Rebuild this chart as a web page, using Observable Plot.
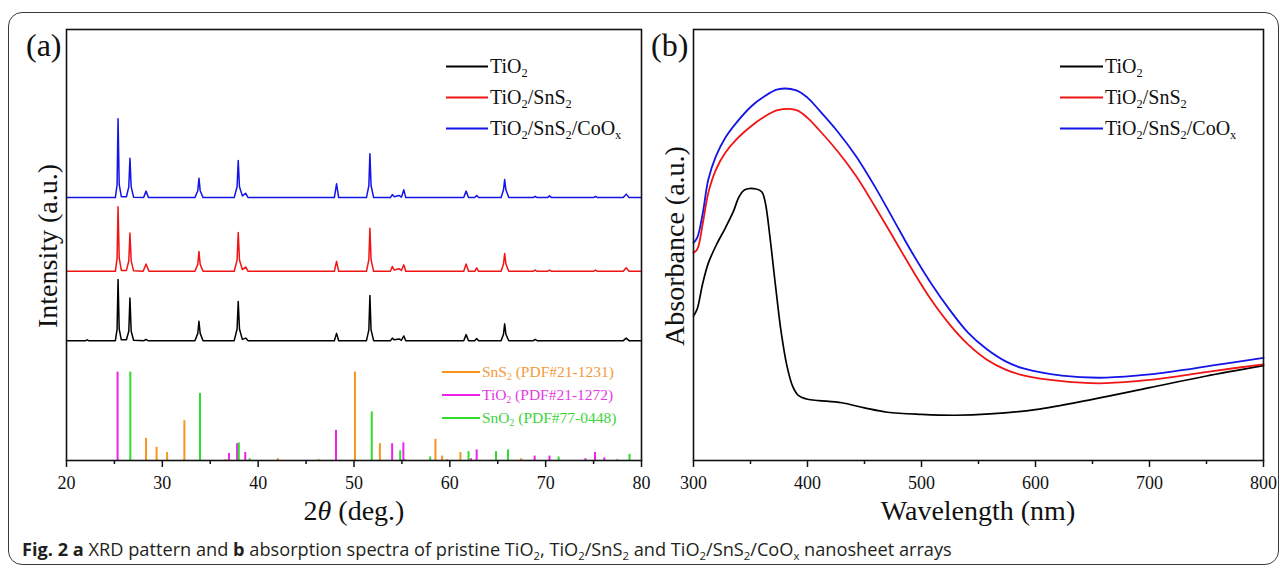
<!DOCTYPE html>
<html>
<head>
<meta charset="utf-8">
<script src="https://cdn.jsdelivr.net/npm/d3@7"></script>
<script src="https://cdn.jsdelivr.net/npm/@observablehq/plot@0.6"></script>
<style>
  body { margin: 0; background: #fff; }
  #wrap { position: relative; width: 1282px; height: 569px; overflow: hidden; background: #fff; }
  .abs { position: absolute; white-space: nowrap; }
  .serif { font-family: "Liberation Serif", "Times New Roman", serif; color: #111; }
  .mid { transform: translateY(-50%); }
  .ctr { transform: translate(-50%, -50%); }
  .rot { transform: translate(-50%, -50%) rotate(-90deg); }
  .leg { display: flex; align-items: center; }
  .leg .sw { display: inline-block; height: 2px; margin-right: 2px; }
  sub { font-size: 0.62em; vertical-align: -0.35em; line-height: 0; }
  #border { position: absolute; left: 8px; top: 12px; width: 1271px; height: 553px; box-sizing: border-box;
            border: 1.5px solid #3a3a3a; border-radius: 14px; }
  #caption { font-family: "Open Sans", "Noto Sans", sans-serif; font-size: 18.2px; color: #231f20; }
  #pa svg text, #pb svg text { font-family: "Liberation Serif", "Times New Roman", serif; }
</style>
</head>
<body>
<div id="wrap">
  <div id="border"></div>
  <div id="pa" class="abs" style="left:0;top:0"></div>
  <div id="pb" class="abs" style="left:645px;top:0"></div>

  <div class="abs serif" style="left:26px;top:29px;font-size:32px;line-height:1">(a)</div>
  <div class="abs serif" style="left:651px;top:29px;font-size:32px;line-height:1">(b)</div>

  <div class="abs serif rot" style="left:48px;top:246px;font-size:28px">Intensity (a.u.)</div>
  <div class="abs serif rot" style="left:675px;top:246px;font-size:28px">Absorbance (a.u.)</div>
  <div class="abs serif ctr" style="left:354px;top:511px;font-size:28px">2<i>θ</i> (deg.)</div>
  <div class="abs serif ctr" style="left:978px;top:511px;font-size:28px">Wavelength (nm)</div>

  <div id="legA"></div>
  <div id="legB"></div>
  <div id="legRef"></div>

  <div id="caption" class="abs mid" style="left:22px;top:549px"><b>Fig. 2</b> <b>a</b> XRD pattern and <b>b</b> absorption spectra of pristine TiO<sub>2</sub>, TiO<sub>2</sub>/SnS<sub>2</sub> and TiO<sub>2</sub>/SnS<sub>2</sub>/CoO<sub>x</sub> nanosheet arrays</div>
</div>
<script>
// ---------------- Panel (a): XRD ----------------
const xTicksA = [20, 30, 40, 50, 60, 70, 80];
const xMinorA = [25, 35, 45, 55, 65, 75];

// trace points [2theta, intensity (a.u.)]
const xrdTiO2SnS2CoOx = [
  [20, 61.0],
  [25.1, 61.0], [25.28, 64.0], [25.38, 79.3], [25.5, 64.0], [25.72, 61.2],
  [26.25, 61.2], [26.5, 63.5], [26.62, 70.1], [26.75, 63.5], [27.0, 61.1],
  [28.05, 61.0], [28.3, 62.5], [28.55, 61.0],
  [33.4, 61.0], [33.7, 62.6], [33.82, 65.5], [33.95, 62.6], [34.25, 61.0],
  [37.5, 61.0], [37.8, 63.5], [37.92, 69.6], [38.05, 63.5], [38.35, 61.4], [38.7, 62.0], [38.95, 61.0],
  [47.95, 61.0], [48.18, 64.2], [48.4, 61.0],
  [51.3, 61.0], [51.55, 63.8], [51.66, 71.2], [51.78, 63.8], [52.05, 61.0],
  [53.8, 61.0], [54.0, 61.7], [54.2, 61.2], [54.7, 61.5], [54.95, 61.1], [55.2, 62.8], [55.4, 61.0],
  [61.45, 61.0], [61.7, 62.5], [61.95, 61.0],
  [62.6, 61.0], [62.8, 61.5], [63.0, 61.0],
  [65.35, 61.0], [65.6, 62.8], [65.72, 65.2], [65.85, 62.8], [66.15, 61.0],
  [68.7, 61.0], [68.9, 61.3], [69.1, 61.0],
  [70.2, 61.0], [70.4, 61.4], [70.6, 61.0],
  [75.0, 61.0], [75.2, 61.3], [75.4, 61.0],
  [78.1, 61.0], [78.4, 61.8], [78.7, 61.0],
  [80, 61.0]
];
const xrdTiO2SnS2 = [
  [20, 43.9],
  [25.1, 43.9], [25.28, 47.0], [25.38, 58.9], [25.5, 47.0], [25.72, 44.1],
  [26.25, 44.1], [26.5, 46.3], [26.62, 52.8], [26.75, 46.3], [27.0, 44.0],
  [28.0, 43.9], [28.3, 45.6], [28.6, 43.9],
  [33.4, 43.9], [33.7, 45.5], [33.82, 48.5], [33.95, 45.5], [34.25, 43.9],
  [37.5, 43.9], [37.8, 46.5], [37.92, 52.9], [38.05, 46.5], [38.35, 44.3], [38.7, 44.9], [38.95, 43.9],
  [47.95, 43.9], [48.18, 46.2], [48.4, 43.9],
  [51.3, 43.9], [51.55, 46.6], [51.66, 53.9], [51.78, 46.6], [52.05, 43.9],
  [53.8, 43.9], [54.0, 45.0], [54.2, 44.2], [54.7, 44.5], [54.95, 44.1], [55.2, 45.4], [55.4, 43.9],
  [61.45, 43.9], [61.7, 45.6], [61.95, 43.9],
  [62.6, 43.9], [62.8, 44.7], [63.0, 43.9],
  [65.35, 43.9], [65.6, 45.6], [65.72, 48.0], [65.85, 45.6], [66.15, 43.9],
  [68.7, 43.9], [68.9, 44.2], [69.1, 43.9],
  [70.2, 43.9], [70.4, 44.2], [70.6, 43.9],
  [75.0, 43.9], [75.2, 44.2], [75.4, 43.9],
  [78.1, 43.9], [78.4, 44.7], [78.7, 43.9],
  [80, 43.9]
];
const xrdTiO2 = [
  [20, 27.8],
  [22.0, 27.8], [22.15, 28.0], [22.3, 27.8],
  [25.1, 27.8], [25.28, 30.5], [25.38, 42.0], [25.5, 30.5], [25.72, 28.0],
  [26.25, 28.0], [26.5, 30.0], [26.62, 37.7], [26.75, 30.0], [27.0, 27.9],
  [28.1, 27.8], [28.3, 28.1], [28.5, 27.8],
  [33.4, 27.8], [33.7, 29.5], [33.82, 32.3], [33.95, 29.5], [34.25, 27.8],
  [37.5, 27.8], [37.8, 30.5], [37.92, 36.9], [38.05, 30.5], [38.35, 28.1], [38.7, 28.4], [38.95, 27.8],
  [47.95, 27.8], [48.18, 29.5], [48.4, 27.8],
  [51.3, 27.8], [51.55, 30.3], [51.66, 38.3], [51.78, 30.3], [52.05, 27.8],
  [53.8, 27.8], [54.0, 28.4], [54.2, 28.0], [54.7, 28.2], [54.95, 27.9], [55.2, 28.9], [55.4, 27.8],
  [61.45, 27.8], [61.7, 29.2], [61.95, 27.8],
  [62.6, 27.8], [62.8, 28.3], [63.0, 27.8],
  [65.35, 27.8], [65.6, 29.3], [65.72, 31.7], [65.85, 29.3], [66.15, 27.8],
  [68.7, 27.8], [68.9, 28.1], [69.1, 27.8],
  [78.1, 27.8], [78.4, 28.4], [78.7, 27.8],
  [80, 27.8]
];

// reference cards: positions (2theta) and relative intensities (%)
const sns2Pos = [28.3, 29.4, 30.5, 32.3, 36.6, 42.05, 46.3, 50.1, 52.7, 55.3, 58.5, 59.2, 59.7, 61.1, 67.45, 77.46];
const sns2Rel = [25, 15, 9, 45, 1, 2, 1, 100, 19, 1, 24, 5, 1, 9, 2, 1];
const tio2Pos = [25.33, 36.95, 37.8, 38.65, 48.12, 53.98, 55.15, 62.2, 62.8, 68.85, 70.4, 74.15, 75.15, 76.12];
const tio2Rel = [100, 8, 19, 9, 34, 19, 20, 2, 12, 5, 5, 2, 9, 3];
const sno2Pos = [26.66, 33.93, 37.98, 39.1, 51.85, 54.82, 57.95, 61.95, 64.82, 66.07, 71.35, 78.75];
const sno2Rel = [100, 76, 20, 2, 55, 11, 4, 10, 10, 12, 4, 7];
const REF_SCALE = 0.205; // relative % -> a.u. of the stick panel

const xrdSeries = ["TiO2", "TiO2/SnS2", "TiO2/SnS2/CoOx"];
const refSeries = ["SnS2 (PDF#21-1231)", "TiO2 (PDF#21-1272)", "SnO2 (PDF#77-0448)"];

// ---------------- Panel (b): UV-vis ----------------
const xTicksB = [300, 400, 500, 600, 700, 800];
const xMinorB = [350, 450, 550, 650, 750];

const absTiO2SnS2CoOx = [
  [300, 0.505], [303.3, 0.517], [308.2, 0.575], [313, 0.652], [319.7, 0.706], [327.9, 0.749],
  [337.7, 0.784], [350.8, 0.822], [360.7, 0.842], [373.8, 0.861], [390.2, 0.859], [400, 0.842],
  [409.8, 0.814], [426.2, 0.764], [442.6, 0.706], [459, 0.636], [475.4, 0.559], [491.8, 0.482],
  [508.2, 0.412], [524.6, 0.350], [541, 0.296], [557.4, 0.258], [573.8, 0.230], [590.2, 0.213],
  [623, 0.197], [655.7, 0.192], [688.5, 0.197], [721.3, 0.207], [754.1, 0.220], [800, 0.238]
];
const absTiO2SnS2 = [
  [300, 0.482], [303.3, 0.490], [308.2, 0.551], [313, 0.621], [319.7, 0.675], [327.9, 0.714],
  [337.7, 0.745], [350.8, 0.776], [360.7, 0.795], [373.8, 0.813], [390.2, 0.813], [400, 0.795],
  [409.8, 0.768], [426.2, 0.718], [442.6, 0.660], [459, 0.590], [475.4, 0.517], [491.8, 0.443],
  [508.2, 0.374], [524.6, 0.316], [541, 0.269], [557.4, 0.234], [573.8, 0.211], [590.2, 0.197],
  [623, 0.184], [655.7, 0.179], [688.5, 0.184], [721.3, 0.194], [754.1, 0.207], [800, 0.223]
];
const absTiO2 = [
  [300, 0.335], [303.3, 0.352], [308, 0.410], [313, 0.458], [320, 0.500], [328, 0.540],
  [335, 0.578], [340, 0.612], [345, 0.628], [355, 0.630], [360, 0.623], [363, 0.598],
  [367, 0.520], [372, 0.404], [377, 0.296], [382, 0.219], [387, 0.172], [392, 0.151],
  [400, 0.142], [410, 0.139], [430, 0.134], [450, 0.122], [470, 0.112], [500, 0.107],
  [530, 0.105], [560, 0.108], [600, 0.118], [650, 0.142], [700, 0.169], [750, 0.196], [800, 0.220]
];

// ---------------- colours ----------------
const traceColors = ["#000000", "#f01414", "#1414e8"];
const refColors = ["#f7941d", "#ee22ee", "#2fdc2f"];
const refTextColors = ["#f29a3a", "#e23ae2", "#3cd43c"];

const serif = "'Liberation Serif', 'Times New Roman', serif";
const toRows = (arr) => arr.map(([x, y]) => ({x, y}));
const toSticks = (pos, rel) => pos.map((p, i) => ({x: p, y: rel[i] * REF_SCALE}));

const axisOpts = {tickSize: 7, tickPadding: 9, fontSize: 18, fontFamily: serif, strokeWidth: 1.5, label: null};
const minorOpts = {tickSize: 4, tickFormat: () => "", strokeWidth: 1.5, label: null};

const plotA = Plot.plot({
  width: 645, height: 530,
  marginLeft: 66, marginRight: 4, marginTop: 29, marginBottom: 70,
  style: {background: "transparent", overflow: "visible", fontFamily: serif, fontSize: "18px", color: "#111"},
  x: {domain: [20, 80], label: null},
  y: {domain: [0, 100], axis: null, label: null},
  marks: [
    Plot.ruleX(toSticks(sns2Pos, sns2Rel), {x: "x", y1: 0, y2: "y", stroke: refColors[0], strokeWidth: 2}),
    Plot.ruleX(toSticks(tio2Pos, tio2Rel), {x: "x", y1: 0, y2: "y", stroke: refColors[1], strokeWidth: 2}),
    Plot.ruleX(toSticks(sno2Pos, sno2Rel), {x: "x", y1: 0, y2: "y", stroke: refColors[2], strokeWidth: 2}),
    Plot.line(toRows(xrdTiO2), {x: "x", y: "y", stroke: traceColors[0], strokeWidth: 1.5}),
    Plot.line(toRows(xrdTiO2SnS2), {x: "x", y: "y", stroke: traceColors[1], strokeWidth: 1.5}),
    Plot.line(toRows(xrdTiO2SnS2CoOx), {x: "x", y: "y", stroke: traceColors[2], strokeWidth: 1.5}),
    Plot.frame({stroke: "#111", strokeWidth: 1.6}),
    Plot.axisX({...axisOpts, ticks: xTicksA}),
    Plot.axisX({...minorOpts, ticks: xMinorA})
  ]
});
document.getElementById("pa").appendChild(plotA);

const plotB = Plot.plot({
  width: 637, height: 530,
  marginLeft: 48, marginRight: 19, marginTop: 29, marginBottom: 70,
  style: {background: "transparent", overflow: "visible", fontFamily: serif, fontSize: "18px", color: "#111"},
  x: {domain: [300, 800], label: null},
  y: {domain: [0, 1], axis: null, label: null},
  marks: [
    Plot.line(toRows(absTiO2), {x: "x", y: "y", stroke: traceColors[0], strokeWidth: 1.7, curve: "catmull-rom"}),
    Plot.line(toRows(absTiO2SnS2), {x: "x", y: "y", stroke: traceColors[1], strokeWidth: 1.8, curve: "catmull-rom"}),
    Plot.line(toRows(absTiO2SnS2CoOx), {x: "x", y: "y", stroke: traceColors[2], strokeWidth: 1.8, curve: "catmull-rom"}),
    Plot.frame({stroke: "#111", strokeWidth: 1.6}),
    Plot.axisX({...axisOpts, ticks: xTicksB}),
    Plot.axisX({...minorOpts, ticks: xMinorB})
  ]
});
document.getElementById("pb").appendChild(plotB);

// ---------------- legends (HTML, with real subscripts) ----------------
function legend(containerId, labels, colors, textColors, left, ys, swatchW, fontSize) {
  const c = document.getElementById(containerId);
  labels.forEach((lab, i) => {
    const row = document.createElement("div");
    row.className = "abs leg mid serif";
    row.style.left = left + "px";
    row.style.top = ys[i] + "px";
    row.style.fontSize = fontSize + "px";
    row.style.color = textColors[i];
    const html = lab.replace(/([A-Za-z])2/g, "$1<sub>2</sub>").replace(/CoOx/, "CoO<sub>x</sub>");
    row.innerHTML = `<span class="sw" style="width:${swatchW}px;background:${colors[i]}"></span><span>${html}</span>`;
    c.appendChild(row);
  });
}
legend("legA", xrdSeries, traceColors, ["#111", "#111", "#111"], 446, [66, 97, 128], 42, 20);
legend("legB", xrdSeries, traceColors, ["#111", "#111", "#111"], 1060, [66, 97, 128], 43, 20);
legend("legRef", refSeries, refColors, refTextColors, 442, [372, 395, 418], 38, 15.5);
</script>
</body>
</html>
